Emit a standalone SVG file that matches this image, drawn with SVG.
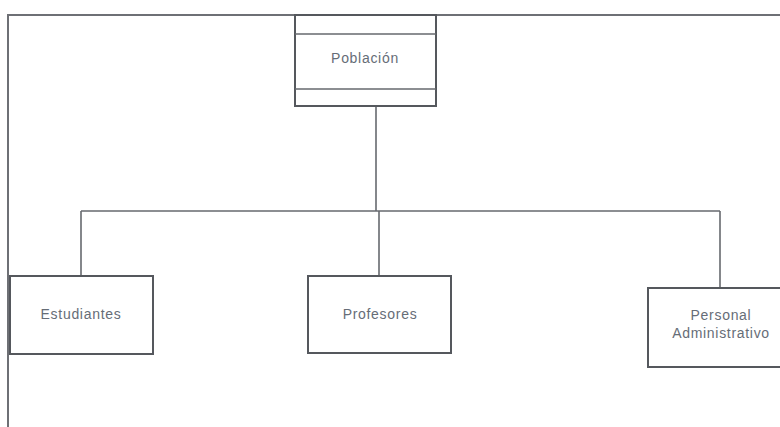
<svg xmlns="http://www.w3.org/2000/svg" width="780" height="427" viewBox="0 0 780 427">
  <style>
    .frame { fill: none; stroke: #6e7075; stroke-width: 2; }
    .box { fill: #ffffff; stroke: #55585d; stroke-width: 2; }
    .line { fill: none; stroke: #66696e; stroke-width: 1.6; }
    .label { font-family: "Liberation Sans", Arial, sans-serif; font-size: 14px; letter-spacing: 0.7px; fill: #666d77; text-anchor: middle; }
  </style>
  <rect width="780" height="427" fill="#ffffff"/>

  <!-- outer frame -->
  <path class="frame" d="M8,427 V15 H780"/>

  <!-- connectors -->
  <g id="connectors">
    <path class="line" d="M376,107 V211"/>
    <path class="line" d="M81,211 H720"/>
    <path class="line" d="M81,211 V276"/>
    <path class="line" d="M379,211 V276"/>
    <path class="line" d="M720,211 V288"/>
  </g>

  <g id="poblacion">
    <rect class="box" x="295" y="15" width="141" height="91"/>
    <line class="line" x1="295" y1="34" x2="436" y2="34"/>
    <line class="line" x1="295" y1="89" x2="436" y2="89"/>
    <text class="label" x="365" y="63">Población</text>
  </g>

  <g id="estudiantes">
    <rect class="box" x="10" y="276" width="143" height="78"/>
    <text class="label" x="81" y="319">Estudiantes</text>
  </g>

  <g id="profesores">
    <rect class="box" x="308" y="276" width="143" height="77"/>
    <text class="label" x="380" y="319">Profesores</text>
  </g>

  <g id="personal">
    <rect class="box" x="648" y="288" width="140" height="79"/>
    <text class="label" x="721" y="320">Personal</text>
    <text class="label" x="721" y="338">Administrativo</text>
  </g>
</svg>
